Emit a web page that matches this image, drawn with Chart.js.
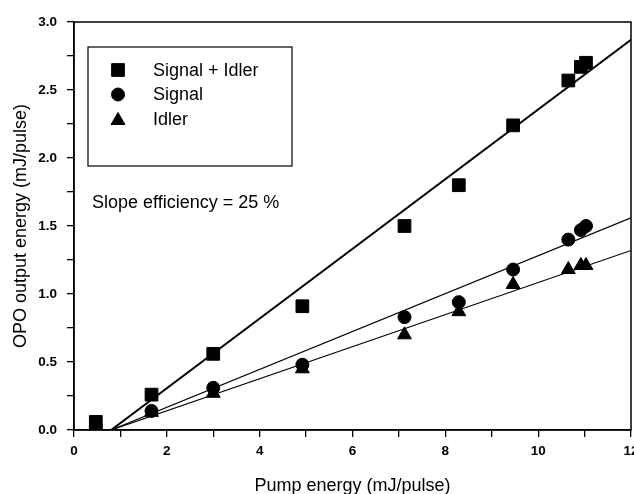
<!DOCTYPE html>
<html>
<head>
<meta charset="utf-8">
<script src="https://cdn.jsdelivr.net/npm/chart.js@4/dist/chart.umd.min.js"></script>
<style>
  html, body { margin: 0; padding: 0; background: #fff; overflow: hidden; }
  #wrap { width: 634px; height: 494px; }
  canvas { display: block; }
</style>
</head>
<body>
<div id="wrap"><canvas id="chartCanvas" width="634" height="494"></canvas></div>
<script>
// 펌프 에너지 (mJ/pulse)
const pumpEnergy = [0.47, 1.67, 3.0, 4.92, 7.12, 8.29, 9.46, 10.65, 10.92, 11.03];
// 출력 에너지 (mJ/pulse)
const signalIdler = [0.06, 0.26, 0.56, 0.91, 1.50, 1.80, 2.24, 2.57, 2.67, 2.70];
const signalOnly  = [0.02, 0.14, 0.31, 0.48, 0.83, 0.94, 1.18, 1.40, 1.47, 1.50];
const idlerOnly   = [0.01, 0.13, 0.27, 0.45, 0.70, 0.87, 1.07, 1.18, 1.21, 1.21];

// 피팅 직선 끝점
const fitX = [0.8, 12];
const fitSignalIdler = [0, 2.87];
const fitSignal = [0, 1.56];
const fitIdler = [0, 1.32];

const seriesLabels = ['Signal + Idler', 'Signal', 'Idler'];
const xTicks = [0, 2, 4, 6, 8, 10, 12];
const yTicks = [0.0, 0.5, 1.0, 1.5, 2.0, 2.5, 3.0];

const FONT = '"Liberation Sans", Arial, sans-serif';

const toPoints = (xs, ys) => xs.map((x, i) => ({ x: x, y: ys[i] }));

// 차트 테두리 + 범례 상자 + 주석
const framePlugin = {
  id: 'frame',
  afterDraw(chart) {
    const { ctx, chartArea } = chart;
    ctx.save();
    ctx.strokeStyle = '#000';
    ctx.lineWidth = 1.5;
    ctx.strokeRect(chartArea.left, chartArea.top, chartArea.right - chartArea.left, chartArea.bottom - chartArea.top);

    // 범례
    const bx = chartArea.left + 14, by = chartArea.top + 25;
    ctx.lineWidth = 1.2;
    ctx.strokeRect(bx, by, 204, 119);
    const styles = [
      { pointStyle: 'rect', radius: 9 },
      { pointStyle: 'circle', radius: 6.5 },
      { pointStyle: 'triangle', radius: 8 }
    ];
    ctx.font = '18px ' + FONT;
    ctx.textBaseline = 'middle';
    ctx.textAlign = 'left';
    styles.forEach((s, i) => {
      const y = by + 23 + i * 24.5;
      ctx.fillStyle = '#000';
      ctx.strokeStyle = '#000';
      ctx.lineWidth = 1;
      Chart.helpers.drawPoint(ctx, { pointStyle: s.pointStyle, radius: s.radius, borderWidth: 1, rotation: 0 }, bx + 30, y + (s.pointStyle === 'triangle' ? 1.5 : 0));
      ctx.fillText(seriesLabels[i], bx + 65, y + 1);
    });

    ctx.fillText('Slope efficiency = 25 %', chartArea.left + 18, chartArea.top + 181);
    ctx.restore();
  }
};

const ctx = document.getElementById('chartCanvas').getContext('2d');
new Chart(ctx, {
  type: 'scatter',
  data: {
    datasets: [
      { label: 'fit S+I', type: 'line', data: toPoints(fitX, fitSignalIdler), borderColor: '#000', borderWidth: 2, pointRadius: 0, fill: false },
      { label: 'fit S', type: 'line', data: toPoints(fitX, fitSignal), borderColor: '#000', borderWidth: 1.2, pointRadius: 0, fill: false },
      { label: 'fit I', type: 'line', data: toPoints(fitX, fitIdler), borderColor: '#000', borderWidth: 1.2, pointRadius: 0, fill: false },
      { label: seriesLabels[0], data: toPoints(pumpEnergy, signalIdler), pointStyle: 'rect', pointRadius: 9, backgroundColor: '#000', borderColor: '#000' },
      { label: seriesLabels[1], data: toPoints(pumpEnergy, signalOnly), pointStyle: 'circle', pointRadius: 6.5, backgroundColor: '#000', borderColor: '#000' },
      { label: seriesLabels[2], data: toPoints(pumpEnergy, idlerOnly), pointStyle: 'triangle', pointRadius: 8, backgroundColor: '#000', borderColor: '#000' }
    ]
  },
  options: {
    responsive: false,
    animation: false,
    layout: { autoPadding: false, padding: { top: 22, right: 3, left: 0, bottom: 0 } },
    plugins: { legend: { display: false }, tooltip: { enabled: false } },
    scales: {
      x: {
        type: 'linear', min: 0, max: 12,
        afterFit: s => { s.height = 64; s.paddingLeft = 0; s.paddingRight = 0; },
        afterBuildTicks: s => { s.ticks = [0,1,2,3,4,5,6,7,8,9,10,11,12].map(v => ({ value: v })); },
        ticks: {
          color: '#000', font: { family: FONT, size: 13.5, weight: 'bold' }, padding: 6, maxRotation: 0,
          callback: v => (xTicks.includes(v) ? String(v) : '')
        },
        grid: { drawOnChartArea: false, drawTicks: true, tickLength: 7, color: '#000', lineWidth: 1.3 },
        border: { display: true, color: '#000', width: 1.5 },
        title: { display: true, text: 'Pump energy (mJ/pulse)', color: '#000', font: { family: FONT, size: 18 }, padding: { top: 0, bottom: -3 } }
      },
      y: {
        type: 'linear', min: 0, max: 3,
        afterFit: s => { s.width = 74; s.paddingTop = 0; s.paddingBottom = 0; },
        afterBuildTicks: s => { s.ticks = [0,0.25,0.5,0.75,1,1.25,1.5,1.75,2,2.25,2.5,2.75,3].map(v => ({ value: v })); },
        ticks: {
          color: '#000', font: { family: FONT, size: 13.5, weight: 'bold' }, padding: 10,
          callback: v => (yTicks.includes(v) ? v.toFixed(1) : '')
        },
        grid: { drawOnChartArea: false, drawTicks: true, tickLength: 7, color: '#000', lineWidth: 1.3 },
        border: { display: true, color: '#000', width: 1.5 },
        title: { display: true, text: 'OPO output energy (mJ/pulse)', color: '#000', font: { family: FONT, size: 18 }, padding: { top: 10, bottom: 0 } }
      }
    }
  },
  plugins: [framePlugin]
});
</script>
</body>
</html>
